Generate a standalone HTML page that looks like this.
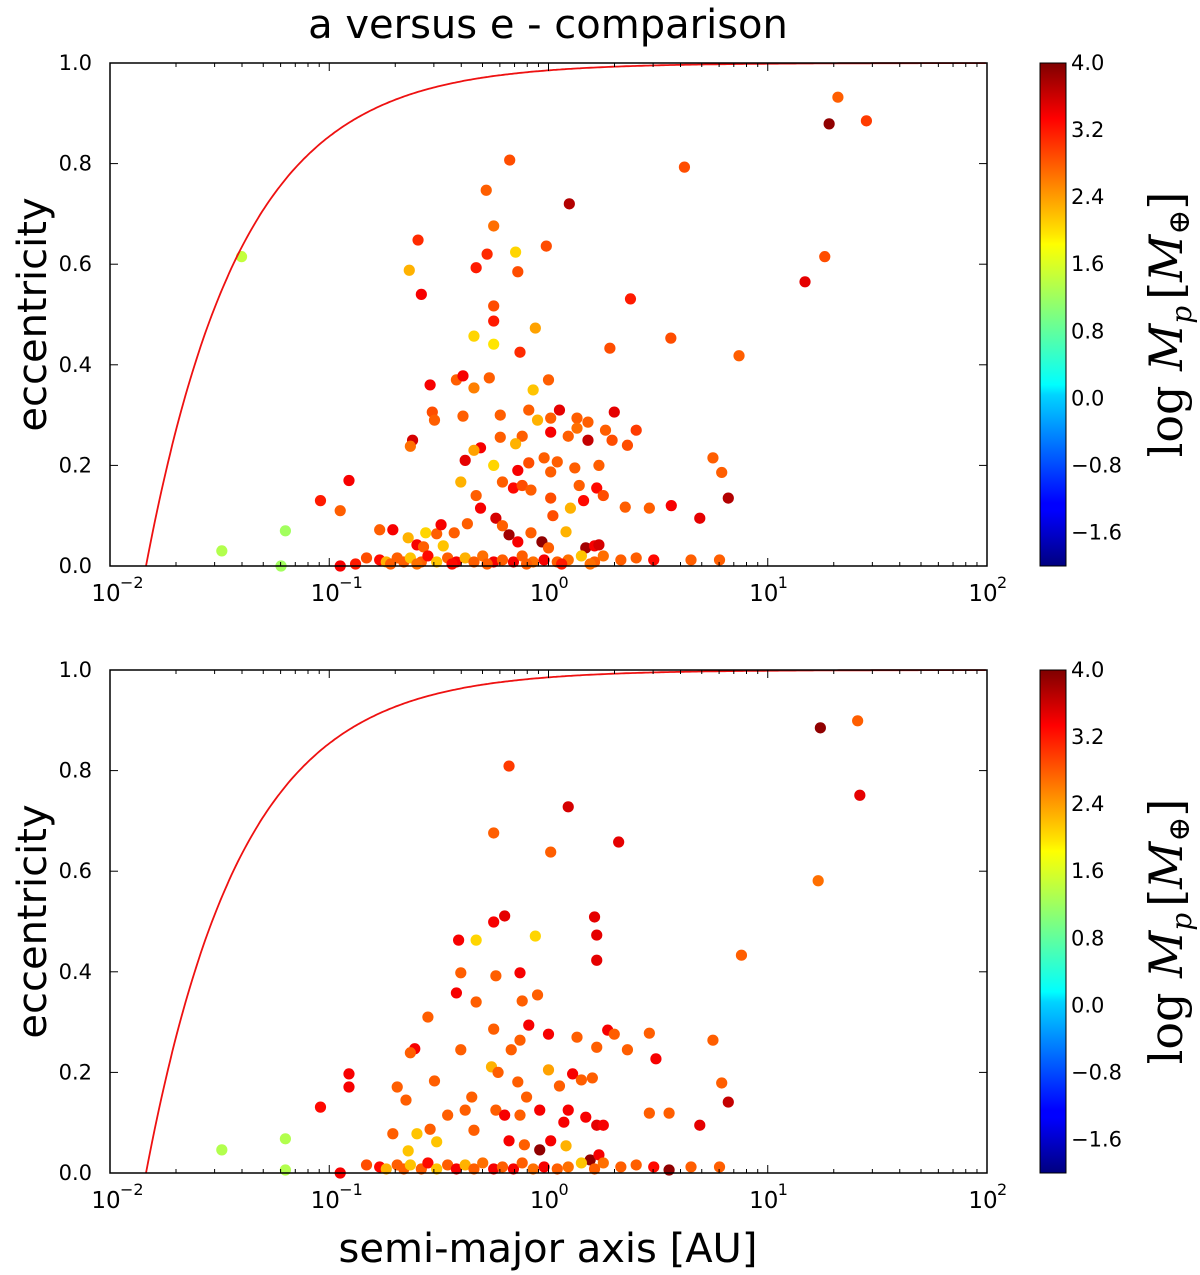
<!DOCTYPE html>
<html><head><meta charset="utf-8"><style>
html,body{margin:0;padding:0;background:#fff;}
svg{display:block;font-family:"DejaVu Sans","Liberation Sans",sans-serif;}
</style></head><body>
<svg id="fig" width="1200" height="1275" viewBox="0 0 1200 1275" xmlns="http://www.w3.org/2000/svg">
<defs>
<linearGradient id="jet" x1="0" y1="1" x2="0" y2="0">
<stop offset="0" stop-color="#00007f"/><stop offset="0.11" stop-color="#0000ff"/><stop offset="0.125" stop-color="#0000ff"/>
<stop offset="0.34" stop-color="#00d4ff"/><stop offset="0.36" stop-color="#0ff"/><stop offset="0.5" stop-color="#7fff7f"/>
<stop offset="0.64" stop-color="#ff0"/><stop offset="0.66" stop-color="#ffe600"/><stop offset="0.89" stop-color="#f00"/><stop offset="1" stop-color="#7f0000"/>
</linearGradient>
</defs>
<text x="548" y="38" font-size="40" text-anchor="middle">a versus e - comparison</text>
<text x="548" y="1262" font-size="40" text-anchor="middle">semi-major axis [AU]</text>
<g id="p1"></g>
<g id="p2"></g>
</svg>
<script>
// top panel data: log10 a [AU], eccentricity, log Mp
const topLogA = [-1.49,-1.40,-1.2,-1.22,-1.04,-0.95,-0.91,0.095,-0.177,-0.284,-0.25,-0.28,-0.33,-0.15,-0.14,-0.01,-0.595,-0.635,-0.58,0.374,-0.25,-0.25,-0.34,-0.25,-0.06,-0.13,0.28,0.558,0.869,0.62,1.28,1.32,1.45,1.26,1.17,0.69,0.56,0.82,0.75,0.79,0.46,0.3,0.18,0.29,0.36,0.4,
-0.42,-0.39,-0.27,0,-0.34,-0.07,0.05,0.01,-0.09,-0.05,-0.22,0.13,0.13,0.18,0.26,-0.54,-0.53,-0.52,-0.62,-0.63,-0.39,-0.31,-0.22,-0.12,0.01,0.09,-0.15,-0.38,-0.34,-0.25,-0.14,-0.09,-0.02,0.04,0.12,0.23,0.14,0.16,0.22,0.25,0.35,-0.21,-0.16,-0.12,-0.08,0.01,0.01,0.1,0.02,-0.4,-0.33,-0.31,-0.24,-0.21,-0.18,-0.14,-0.08,-0.03,0,0.08,0.17,0.21,0.23,-0.64,-0.6,-0.56,-0.51,-0.48,-0.43,-0.37,-0.49,-0.71,-0.77,-0.57,
-0.95,-0.83,-0.77,-0.74,-0.69,-0.66,-0.63,-0.58,-0.55,-0.51,-0.46,-0.42,-0.38,-0.34,-0.3,-0.25,-0.21,-0.16,-0.12,-0.07,-0.02,0.04,0.09,0.15,0.21,0.25,0.33,0.4,0.48,0.65,0.78,-0.88,-0.72,-0.6,-0.44,-0.28,-0.1,0.06,0.19];
const topEcc = [0.03,0.615,0.07,0,0.13,0.11,0.17,0.72,0.807,0.747,0.676,0.62,0.593,0.624,0.585,0.636,0.648,0.588,0.54,0.531,0.517,0.487,0.457,0.441,0.473,0.425,0.433,0.453,0.418,0.793,0.879,0.932,0.885,0.615,0.565,0.095,0.12,0.135,0.215,0.186,0.115,0.306,0.25,0.25,0.24,0.27,
0.37,0.378,0.374,0.37,0.354,0.35,0.31,0.294,0.31,0.29,0.30,0.294,0.274,0.286,0.27,0.36,0.306,0.29,0.25,0.238,0.298,0.235,0.256,0.258,0.266,0.258,0.243,0.21,0.23,0.2,0.19,0.205,0.215,0.207,0.195,0.2,0.16,0.13,0.155,0.14,0.117,0.167,0.155,0.16,0.151,0.187,0.135,0.115,0.1,0.167,0.14,0.115,0.095,0.08,0.062,0.048,0.066,0.048,0.036,0.068,0.036,0.04,0.042,0.056,0.042,0.066,0.064,0.04,0.066,0.084,0.082,0.072,0.072,0.038,
0,0.016,0.012,0.008,0.016,0.008,0.016,0.008,0.02,0.008,0.016,0.008,0.016,0.008,0.02,0.008,0.012,0.008,0.02,0.008,0.012,0.008,0.012,0.02,0.008,0.02,0.012,0.016,0.012,0.012,0.012,0.004,0.004,0.004,0.004,0.004,0.004,0.004,0.004];
const topMass = [1.3,1.4,1.2,1.2,3.1,2.7,3.3,3.7,2.8,2.7,2.6,3.0,3.1,2.0,2.8,2.8,3.0,2.2,3.3,3.1,2.8,3.1,2.0,1.9,2.3,3.0,2.8,2.8,2.7,2.8,3.9,2.7,2.9,2.8,3.4,3.4,3.3,3.7,2.7,2.7,2.7,3.4,3.6,2.8,2.8,2.9,
2.7,3.3,2.7,2.7,2.5,2.1,3.4,2.7,2.7,2.2,2.7,2.7,2.6,2.7,2.7,3.3,2.8,2.7,3.5,2.6,2.7,3.3,2.7,2.7,3.3,2.7,2.2,3.4,2.3,2.0,3.3,2.8,2.7,2.7,2.7,2.7,2.7,3.2,3.2,2.8,2.7,2.7,3.2,2.8,2.7,2.7,2.8,2.2,2.8,2.2,2.7,3.3,3.5,2.7,3.8,3.3,2.7,3.9,2.7,2.2,3.8,3.3,3.5,2.2,3.3,2.0,2.7,2.1,2.7,2.7,3.3,3.3,2.7,2.7,
3.3,2.8,3.2,2.2,2.7,2.7,2.1,2.7,3.2,2.1,2.7,3.3,2.2,2.7,2.6,3.3,2.7,3.3,2.7,2.6,3.3,2.7,2.6,2.1,2.7,2.6,2.7,2.7,3.2,2.7,2.7,3.1,2.7,2.6,3.2,2.7,2.7,3.1,2.6];

// bottom panel data
const botLogA = [-1.49,-1.2,-1.2,-1.04,-0.91,-0.91,-0.18,0.09,0.32,-0.25,0.01,-0.2,-0.25,-0.33,-0.41,-0.06,0.21,0.22,0.22,0.88,1.24,1.41,1.42,1.23,-0.4,-0.24,-0.13,-0.42,-0.12,-0.05,-0.33,-0.55,-0.25,-0.09,0,0.13,0.27,0.3,0.46,0.22,0.36,0.49,0.75,0.79,0.82,0.69,0.55,0.46,-0.61,-0.63,-0.69,-0.65,-0.52,-0.4,-0.17,-0.13,-0.26,-0.23,-0.14,-0.1,0,0.05,0.11,0.15,0.2,0.09,0.07,0.17,0.22,0.25,-0.04,-0.24,-0.2,-0.13,-0.35,-0.38,-0.46,-0.34,-0.71,-0.6,-0.54,-0.51,-0.64,-0.18,-0.11,-0.04,0.01,0.08,0.19,0.23,0.55,
-0.95,-0.83,-0.77,-0.74,-0.69,-0.66,-0.63,-0.58,-0.55,-0.51,-0.46,-0.42,-0.38,-0.34,-0.3,-0.25,-0.21,-0.16,-0.12,-0.07,-0.02,0.04,0.09,0.15,0.21,0.25,0.33,0.4,0.48,0.65,0.78];
const botEcc = [0.046,0.068,0.006,0.131,0.197,0.171,0.809,0.728,0.658,0.676,0.638,0.511,0.499,0.463,0.463,0.471,0.509,0.473,0.423,0.433,0.885,0.899,0.751,0.581,0.398,0.392,0.398,0.358,0.342,0.354,0.34,0.31,0.286,0.294,0.276,0.27,0.284,0.276,0.278,0.25,0.245,0.227,0.264,0.179,0.141,0.095,0.119,0.119,0.247,0.239,0.171,0.145,0.183,0.245,0.245,0.264,0.211,0.2,0.181,0.151,0.205,0.173,0.197,0.185,0.189,0.125,0.101,0.111,0.095,0.095,0.125,0.125,0.115,0.115,0.151,0.125,0.115,0.085,0.078,0.078,0.087,0.062,0.044,0.064,0.056,0.046,0.064,0.054,0.026,0.036,0.006,
0,0.016,0.012,0.008,0.016,0.008,0.016,0.008,0.02,0.008,0.016,0.008,0.016,0.008,0.02,0.008,0.012,0.008,0.02,0.008,0.012,0.008,0.012,0.02,0.008,0.02,0.012,0.016,0.012,0.012,0.012];
const botMass = [1.3,1.3,1.3,3.2,3.3,3.3,2.9,3.5,3.4,2.7,2.7,3.4,3.3,2.0,3.3,2.0,3.4,3.4,3.4,2.7,3.9,2.7,3.4,2.6,2.7,2.7,3.3,3.3,2.7,2.7,2.7,2.7,2.7,3.3,3.3,2.7,3.3,2.7,2.7,2.7,2.7,3.3,2.7,2.7,3.6,3.4,2.7,2.7,3.3,2.7,2.7,2.7,2.7,2.7,2.7,2.7,2.2,2.7,2.7,2.7,2.3,2.7,3.3,2.7,2.7,3.3,3.3,3.3,3.4,3.3,3.3,2.7,3.3,2.7,2.7,2.7,2.7,2.7,2.7,2.1,2.7,2.1,2.1,3.3,2.7,3.9,3.3,2.2,3.9,3.3,3.9,
3.3,2.8,3.2,2.2,2.7,2.7,2.1,2.7,3.2,2.1,2.7,3.3,2.2,2.7,2.6,3.3,2.7,3.3,2.7,2.6,3.3,2.7,2.6,2.1,2.7,2.6,2.7,2.7,3.2,2.7,2.7];

const xTickExps = [-2,-1,0,1,2];
const yTicks = [0.0,0.2,0.4,0.6,0.8,1.0];
const cbTicks = [-1.6,-0.8,0.0,0.8,1.6,2.4,3.2,4.0];
const periQ = 0.0146; // curve parameter, e = 1 - q/a

const NS = "http://www.w3.org/2000/svg";
const X0 = 110, X1 = 987, CB0 = 1040, CB1 = 1066, CMIN = -2, CMAX = 4;
function mk(parent, tag, attrs) {
  const el = document.createElementNS(NS, tag);
  for (const k in attrs) el.setAttribute(k, attrs[k]);
  parent.appendChild(el);
  return el;
}
function jet(v) {
  const t = Math.max(0, Math.min(1, (v - CMIN) / (CMAX - CMIN)));
  const c = x => Math.round(255 * Math.max(0, Math.min(1, x)));
  return `rgb(${c(1.5 - Math.abs(4*t - 3))},${c(1.5 - Math.abs(4*t - 2))},${c(1.5 - Math.abs(4*t - 1))})`;
}
function panel(g, top, logA, ecc, mass) {
  const bot = top + 503;
  const xs = la => X0 + (la + 2) / 4 * (X1 - X0);
  const ys = e => bot - e * (bot - top);
  const cy = v => bot - (v - CMIN) / (CMAX - CMIN) * (bot - top);
  const pts = mk(g, 'g', {});
  
  
  for (let i = 0; i < logA.length; i++) {
    const c = mk(pts, 'circle', {cx: xs(logA[i]), cy: ys(ecc[i]), r: 5.6, fill: jet(mass[i])});
    
    
  }
  let d = '';
  for (let la = Math.log10(periQ); la <= 2.0001; la += 0.01) {
    const e = Math.max(0, 1 - periQ / Math.pow(10, la));
    d += (d ? 'L' : 'M') + xs(la).toFixed(1) + ',' + ys(e).toFixed(1);
  }
  const cl = mk(g, 'path', {d: d, fill: 'none', stroke: '#ee1111', 'stroke-width': 1.8});
  
  
  const fr = mk(g, 'rect', {x: X0, y: top, width: X1 - X0, height: bot - top, fill: 'none', stroke: '#000', 'stroke-width': 1.5});
  
  
  const tk = mk(g, 'g', {stroke: '#000', 'stroke-width': 1});
  
  
  for (const ex of xTickExps) {
    const x = xs(ex);
    mk(tk, 'line', {x1: x, x2: x, y1: bot, y2: bot - 8});
    mk(tk, 'line', {x1: x, x2: x, y1: top, y2: top + 8});
    const t = mk(g, 'text', {x: x - 4, y: bot + 35, 'font-size': 23, 'text-anchor': 'middle'});
    
    
    t.textContent = '10';
    const s = mk(g, 'text', {x: x + 10, y: bot + 22, 'font-size': 16});
    
    
    s.textContent = ex < 0 ? '\u2212' + (-ex) : String(ex);
    if (ex < 2) for (let m = 2; m <= 9; m++) {
      const xm = xs(ex + Math.log10(m));
      mk(tk, 'line', {x1: xm, x2: xm, y1: bot, y2: bot - 4});
      mk(tk, 'line', {x1: xm, x2: xm, y1: top, y2: top + 4});
    }
  }
  for (const v of yTicks) {
    const y = ys(v);
    mk(tk, 'line', {x1: X0, x2: X0 + 8, y1: y, y2: y});
    mk(tk, 'line', {x1: X1, x2: X1 - 8, y1: y, y2: y});
    const t = mk(g, 'text', {x: 92, y: y + 7, 'font-size': 21, 'text-anchor': 'end'});
    
    
    t.textContent = v.toFixed(1);
  }
  const yl = mk(g, 'text', {x: 0, y: 0, 'font-size': 40, 'text-anchor': 'middle', transform: `translate(46,${(top + bot) / 2}) rotate(-90)`});
  
  
  yl.textContent = 'eccentricity';
  const cb = mk(g, 'rect', {x: CB0, y: top, width: CB1 - CB0, height: bot - top, fill: 'url(#jet)', stroke: '#000', 'stroke-width': 1});
  
  
  for (const v of cbTicks) {
    const y = cy(v);
    mk(tk, 'line', {x1: CB1, x2: CB1 - 6, y1: y, y2: y});
    const t = mk(g, 'text', {x: 1071, y: y + 7, 'font-size': 21});
    
    
    t.textContent = v < 0 ? '\u2212' + (-v).toFixed(1) : v.toFixed(1);
  }
  const cbl = mk(g, 'text', {x: 0, y: 0, 'font-size': 46, 'text-anchor': 'middle', 'font-family': '"DejaVu Serif","Liberation Serif",serif', transform: `translate(1182,${(top + bot) / 2 + 10}) rotate(-90)`});
  
  
  cbl.innerHTML = 'log <tspan font-style="italic">M</tspan><tspan font-style="italic" font-size="28" dy="9">p</tspan><tspan dx="6" dy="-9">[</tspan><tspan font-style="italic">M</tspan><tspan font-size="30" dy="7">\u2295</tspan><tspan dy="-7">]</tspan>';
}
panel(document.getElementById('p1'), 63, topLogA, topEcc, topMass);
panel(document.getElementById('p2'), 670, botLogA, botEcc, botMass);
</script>
</body></html>
